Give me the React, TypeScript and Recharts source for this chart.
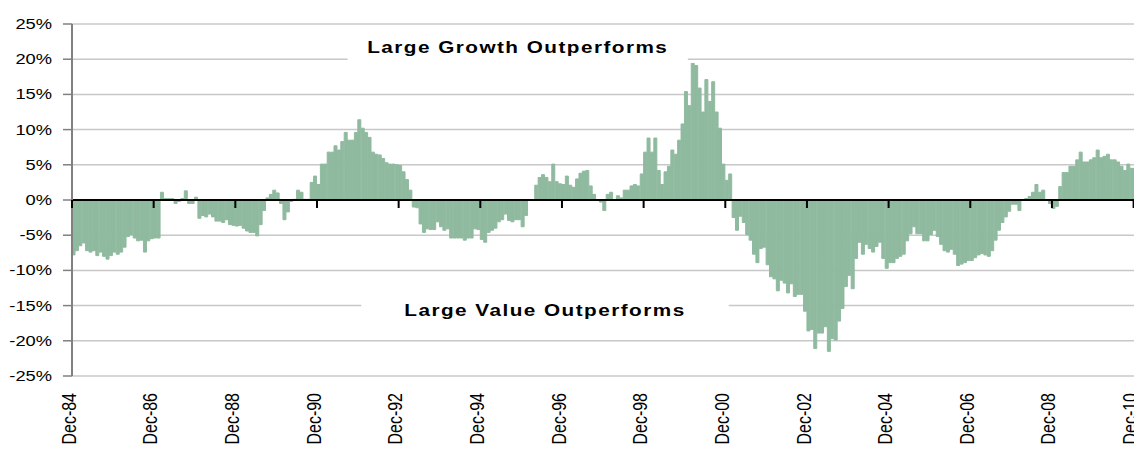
import React from "react";
import {
  BarChart,
  Bar,
  XAxis,
  YAxis,
  CartesianGrid,
  ReferenceLine,
  ReferenceArea,
} from "recharts";

// monthly spread, Dec-84 .. Dec-10, one array per two-year block
const block84 = [-7.8, -7.2, -6.5, -6.1, -7.2, -7.4, -7.2, -7.9, -7.4, -8.0, -8.4, -7.9, -7.4, -7.7, -7.4, -6.7, -5.2, -4.9, -5.4, -5.8, -5.7, -7.4, -5.8, -5.5];
const block86 = [-5.4, -5.4, 1.1, 0.2, 0.2, 0.2, -0.5, -0.2, 0.2, 1.3, -0.5, -0.5, 0.4, -2.6, -2.2, -2.4, -2.0, -2.4, -3.0, -3.0, -3.2, -2.8, -3.5, -3.6];
const block88 = [-3.7, -3.6, -4.0, -4.4, -4.6, -4.6, -5.1, -3.5, -1.5, 0.3, 0.8, 1.4, 1.0, -0.5, -2.8, -1.7, -0.2, 0.1, 1.4, 1.1, 0.1, 0.1, 2.5, 3.4];
const block90 = [2.2, 5.1, 5.1, 6.8, 6.8, 7.7, 7.1, 8.3, 9.6, 8.5, 8.5, 9.6, 11.4, 10.2, 9.6, 8.9, 6.8, 6.5, 6.4, 5.9, 5.3, 5.1, 5.1, 5.0];
const block92 = [4.9, 4.0, 2.9, 1.4, -1.0, -1.1, -3.4, -4.6, -4.1, -4.2, -4.2, -3.1, -3.8, -4.3, -4.1, -5.4, -5.4, -5.4, -5.4, -5.7, -5.4, -5.4, -4.1, -4.2];
const block94 = [-5.6, -6.0, -4.6, -4.3, -4.0, -3.1, -2.8, -2.0, -2.9, -3.1, -2.8, -2.8, -3.8, -2.2, 0, 0, 2.1, 3.2, 3.6, 3.2, 2.6, 5.1, 2.6, 2.3];
const block96 = [2.2, 3.4, 2.1, 1.8, 3.0, 3.8, 4.1, 4.2, 2.0, 0.8, 0, -0.3, -1.5, 0.8, 1.1, 0, 0.6, 0.3, 1.4, 1.4, 2.0, 2.2, 2.0, 3.7];
const block98 = [6.8, 8.8, 6.8, 8.8, 4.2, 2.2, 4.0, 4.8, 7.1, 6.5, 8.5, 10.8, 15.4, 13.4, 19.4, 19.1, 15.9, 12.5, 17.1, 14.0, 16.8, 12.5, 10.2, 5.1];
const block00 = [2.8, 3.7, -2.5, -4.3, -2.3, -3.2, -4.9, -5.7, -7.7, -8.9, -6.9, -6.7, -9.2, -10.9, -11.2, -12.9, -11.4, -11.8, -13.2, -11.9, -13.7, -13.4, -13.4, -15.8];
const block02 = [-18.6, -18.4, -21.1, -18.9, -18.9, -18.0, -21.5, -19.7, -19.9, -17.2, -15.4, -12.3, -10.7, -12.6, -8.3, -6.0, -7.7, -6.3, -6.9, -7.4, -6.6, -6.0, -8.3, -9.7];
const block04 = [-8.9, -8.9, -8.3, -8.0, -7.7, -5.8, -4.8, -3.8, -4.8, -4.8, -5.8, -5.8, -4.9, -4.3, -5.2, -6.3, -7.2, -7.4, -7.0, -7.7, -9.3, -9.1, -8.9, -8.6];
const block06 = [-8.6, -8.2, -7.8, -7.6, -7.8, -8.0, -7.2, -5.7, -4.3, -3.2, -2.4, -1.6, -0.6, -0.6, -1.5, 0.05, 0.2, 0.5, 1.1, 2.2, 1.1, 1.4, 0, -0.5];
const block08 = [-1.2, -0.9, 1.9, 3.9, 3.9, 4.8, 4.8, 5.7, 6.8, 5.4, 5.4, 5.7, 6.0, 7.1, 6.0, 6.2, 6.5, 5.7, 5.7, 5.4, 4.8, 4.2, 5.1, 4.5];
const block10 = [4.5];

const monthNames = ["Jan", "Feb", "Mar", "Apr", "May", "Jun", "Jul", "Aug", "Sep", "Oct", "Nov", "Dec"];
const tickLabels = ["Dec-84", "Dec-86", "Dec-88", "Dec-90", "Dec-92", "Dec-94", "Dec-96", "Dec-98", "Dec-00", "Dec-02", "Dec-04", "Dec-06", "Dec-08", "Dec-10"];
const yTicks = [-25, -20, -15, -10, -5, 0, 5, 10, 15, 20, 25];

const growthText = "Large Growth Outperforms";
const valueText = "Large Value Outperforms";

const values = [
  ...block84, ...block86, ...block88, ...block90, ...block92, ...block94, ...block96,
  ...block98, ...block00, ...block02, ...block04, ...block06, ...block08, ...block10,
];

// month labels starting Dec-84
const categories = values.map((_, i) => {
  const m = (11 + i) % 12;
  const yr = (1984 + Math.floor((11 + i) / 12)) % 100;
  return `${monthNames[m]}-${String(yr).padStart(2, "0")}`;
});

const data = values.map((v, i) => ({ month: categories[i], spread: v }));

const CHART_W = 1137;
const CHART_H = 453;
const X_H = 77;
const M = { top: 24, right: 0, bottom: 0, left: 0 };
const Y_W = 72;
const PLOT_W = CHART_W - M.left - M.right - Y_W;
const PLOT_H = CHART_H - M.top - M.bottom - X_H;
const BAND = PLOT_W / values.length;
const ZERO_Y = M.top + PLOT_H / 2;

const FONT = "'Liberation Sans', Arial, sans-serif";
const GREEN = "#8fba9f";
// the source picture is a little wider than tall, glyphs included
const STRETCH = 1.22;

const XTick = (props: any) => {
  const { x, y, payload } = props;
  const bx = x - BAND / 2;
  const lx = bx - 3;
  const ly = y + 9;
  return (
    <g>
      <line x1={bx} x2={bx} y1={ZERO_Y} y2={ZERO_Y + 8} stroke="#000" strokeWidth={2} />
      <g transform={`translate(${lx}, ${ly}) scale(${STRETCH}, 1) rotate(-90)`}>
        <text x={0} y={0} textAnchor="end" dominantBaseline="central" fontSize={16} fontFamily={FONT} fill="#000">
          {payload.value}
        </text>
      </g>
    </g>
  );
};

const YTick = (props: any) => {
  const { x, y, payload } = props;
  return (
    <g transform={`translate(${x}, ${y}) scale(${STRETCH}, 1)`}>
      <text x={0} y={0} textAnchor="end" dominantBaseline="central" fontSize={15} fontFamily={FONT} fill="#000">
        {`${payload.value}%`}
      </text>
    </g>
  );
};

const noteLabel = (text: string) => (props: any) => {
  const { viewBox } = props;
  const cx = viewBox.x + viewBox.width / 2;
  const cy = viewBox.y + viewBox.height / 2;
  return (
    <g transform={`translate(${cx}, ${cy}) scale(${STRETCH}, 1)`}>
      <text x={0} y={0} textAnchor="middle" dominantBaseline="central" fontSize={17} fontWeight="bold" fontFamily={FONT} letterSpacing={1.2} fill="#000">
        {text}
      </text>
    </g>
  );
};

const App = () => {
  return (
    <div
      style={{
        position: "absolute",
        left: 0,
        top: 0,
        width: 1134,
        height: 453,
        overflow: "hidden",
        background: "#fff",
      }}
    >
      <BarChart width={CHART_W} height={CHART_H} data={data} margin={M} barCategoryGap={0} barGap={0}>
        <CartesianGrid vertical={false} stroke="#c8c8c8" strokeWidth={1.5} />
        <XAxis
          dataKey="month"
          ticks={tickLabels}
          interval={0}
          axisLine={false}
          tickLine={false}
          tick={<XTick />}
          height={X_H}
        />
        <YAxis
          domain={[-25, 25]}
          ticks={yTicks}
          width={Y_W}
          axisLine={{ stroke: "#808080", strokeWidth: 2 }}
          tickLine={{ stroke: "#808080", strokeWidth: 1.5 }}
          tickSize={9}
          tickMargin={11}
          tick={<YTick />}
          allowDataOverflow
        />
        <ReferenceArea
          x1={categories[81]}
          x2={categories[180]}
          y1={19.2}
          y2={24.2}
          fill="#fff"
          fillOpacity={1}
          stroke="none"
          label={noteLabel(growthText)}
        />
        <ReferenceArea
          x1={categories[85]}
          x2={categories[192]}
          y1={-17.2}
          y2={-14.2}
          fill="#fff"
          fillOpacity={1}
          stroke="none"
          label={noteLabel(valueText)}
        />
        <Bar dataKey="spread" fill={GREEN} stroke={GREEN} strokeWidth={1} isAnimationActive={false} />
        <ReferenceLine y={0} stroke="#000" strokeWidth={2} />
      </BarChart>
    </div>
  );
};

export default App;
